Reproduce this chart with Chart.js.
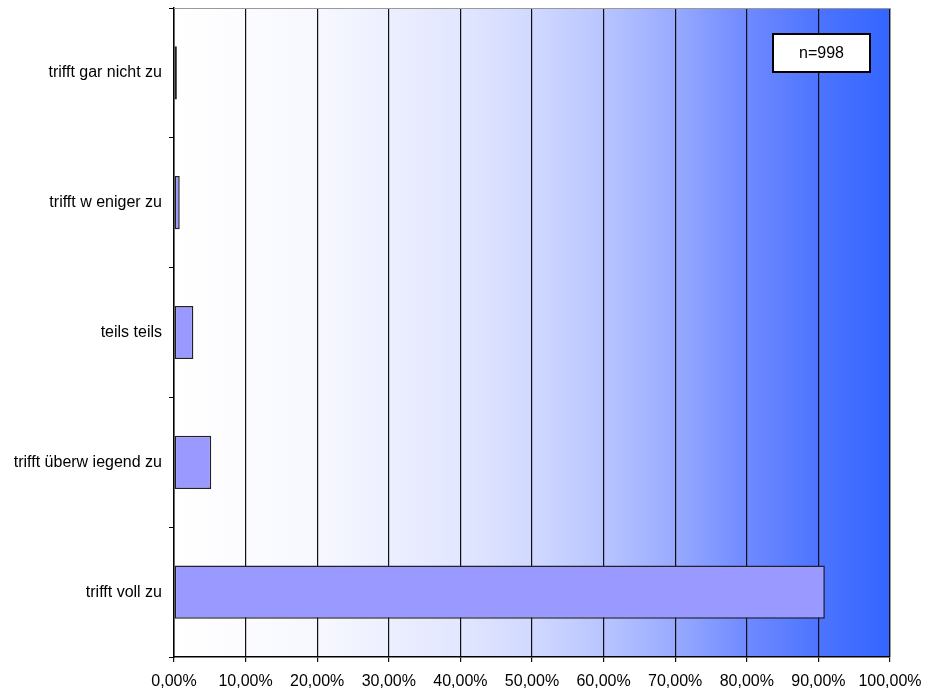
<!DOCTYPE html>
<html>
<head>
<meta charset="utf-8">
<script src="https://cdn.jsdelivr.net/npm/chart.js@4/dist/chart.umd.min.js"></script>
<style>
html,body{margin:0;padding:0;background:#fff;}
#wrap{position:relative;width:925px;height:690px;}
</style>
</head>
<body>
<div id="wrap"><canvas id="c" width="925" height="690"></canvas></div>
<script>
const categories = ["trifft gar nicht zu", "trifft w eniger zu", "teils teils", "trifft überw iegend zu", "trifft voll zu"];
const percentValues = [0.4, 0.8, 2.7, 5.2, 90.9];
const sampleNote = "n=998";

const FONT = '"Liberation Sans", Arial, sans-serif';

const gradientBg = {
  id: 'gradientBg',
  beforeDraw(chart) {
    const {ctx, chartArea: a} = chart;
    const g = ctx.createLinearGradient(a.left, 0, a.right, 0);
    g.addColorStop(0, '#FFFFFF');
    g.addColorStop(0.2, '#F7F8FF');
    g.addColorStop(0.4, '#E2E6FF');
    g.addColorStop(0.5, '#D1D9FF');
    g.addColorStop(0.6, '#B8C5FF');
    g.addColorStop(0.7, '#98AAFF');
    g.addColorStop(0.8, '#6F8AFF');
    g.addColorStop(0.9, '#4D74FF');
    g.addColorStop(1, '#3366FF');
    ctx.save();
    ctx.fillStyle = g;
    ctx.fillRect(a.left, a.top, a.right - a.left, a.bottom - a.top);
    ctx.restore();
  },
  afterDraw(chart) {
    const {ctx, chartArea: a} = chart;
    ctx.save();
    ctx.strokeStyle = '#999999';
    ctx.lineWidth = 1;
    ctx.beginPath();
    ctx.moveTo(a.left, a.top + 0.5);
    ctx.lineTo(a.right + 0.5, a.top + 0.5);
    ctx.lineTo(a.right + 0.5, a.bottom);
    ctx.stroke();
    // n box
    const bx = 773, by = 34, bw = 97, bh = 38;
    ctx.fillStyle = '#FFFFFF';
    ctx.fillRect(bx, by, bw, bh);
    ctx.strokeStyle = '#000000';
    ctx.lineWidth = 2;
    ctx.strokeRect(bx, by, bw, bh);
    ctx.fillStyle = '#000000';
    ctx.font = '16px ' + FONT;
    ctx.textAlign = 'center';
    ctx.textBaseline = 'middle';
    ctx.fillText(sampleNote, bx + bw / 2, by + bh / 2 + 1);
    ctx.restore();
  }
};

new Chart(document.getElementById('c'), {
  type: 'bar',
  data: {
    labels: categories,
    datasets: [{
      data: percentValues,
      backgroundColor: '#9999FF',
      borderColor: '#222222',
      borderWidth: 1.5,
      borderSkipped: false,
      barPercentage: 0.41,
      categoryPercentage: 1.0
    }]
  },
  options: {
    indexAxis: 'y',
    responsive: false,
    animation: false,
    devicePixelRatio: 1,
    layout: { padding: { top: 8, right: 35, left: 0, bottom: 0 } },
    plugins: { legend: { display: false }, tooltip: { enabled: false } },
    scales: {
      x: {
        min: 0, max: 100,
        ticks: {
          stepSize: 10,
          color: '#000000',
          font: { family: FONT, size: 16 },
          padding: 10,
          maxRotation: 0,
          autoSkip: false,
          callback: v => v.toFixed(2).replace('.', ',') + '%'
        },
        grid: { color: '#111111', lineWidth: 1.2, tickLength: 5, drawOnChartArea: true },
        border: { color: '#000000', width: 1.5 },
        afterFit(s) { s.height = 33; s.paddingLeft = 0; s.paddingRight = 0; }
      },
      y: {
        ticks: {
          color: '#000000',
          font: { family: FONT, size: 16 },
          padding: 7
        },
        grid: { offset: true, drawOnChartArea: false, color: '#000000', tickLength: 5 },
        border: { color: '#000000', width: 1.5 },
        afterFit(s) { s.width = 174; s.paddingTop = 0; s.paddingBottom = 0; }
      }
    }
  },
  plugins: [gradientBg]
});
</script>
</body>
</html>
